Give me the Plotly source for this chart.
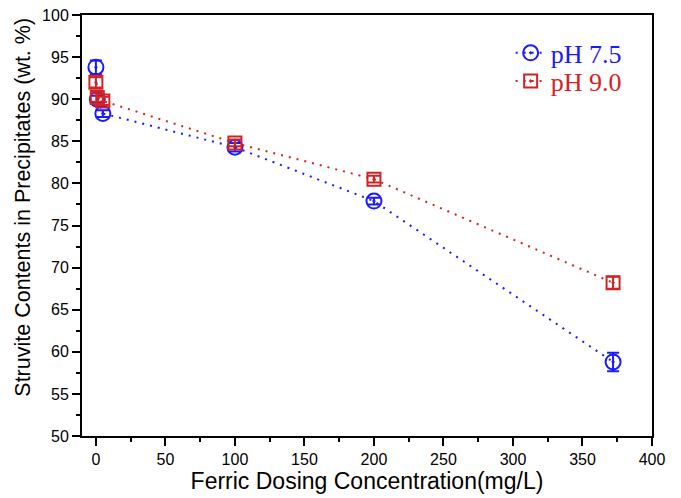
import plotly.graph_objects as go

x_vals = [0, 1, 5, 100, 200, 372]
ph75 = [93.8, 90.0, 88.3, 84.3, 77.9, 58.8]
ph75_err = [0.8, 0.4, 0.4, 0.5, 0.4, 1.1]
ph90 = [92.0, 90.2, 89.8, 84.8, 80.5, 68.2]
ph90_err = [0.6, 0.5, 0.5, 0.4, 0.4, 0.7]

blue = "#1a1aff"
red = "#d42222"

fig = go.Figure()
fig.add_trace(go.Scatter(
    x=x_vals, y=ph75, mode="lines+markers",
    name="<span style='color:%s'>pH 7.5</span>" % blue,
    line=dict(color=blue, width=2, dash="2px,6px"),
    marker=dict(symbol="circle-open-dot", size=15, color=blue, line=dict(width=2)),
    error_y=dict(type="data", array=ph75_err, color=blue, thickness=2, width=6),
    legend="legend",
))
fig.add_trace(go.Scatter(
    x=x_vals, y=ph90, mode="lines+markers",
    name="<span style='color:%s'>pH 9.0</span>" % red,
    line=dict(color=red, width=2, dash="2px,6px"),
    marker=dict(symbol="square-open-dot", size=13, color=red, line=dict(width=2)),
    error_y=dict(type="data", array=ph90_err, color=red, thickness=2, width=6),
    legend="legend2",
))

axis_common = dict(
    showline=True, linecolor="black", linewidth=2, mirror=True,
    ticks="outside", ticklen=8, tickwidth=2, tickcolor="black",
    showgrid=False, zeroline=False, automargin=False,
    ticklabeloverflow="allow",
    tickfont=dict(family="Liberation Sans, Arial", size=16, color="black"),
)

legend_common = dict(
    xanchor="left", yanchor="middle",
    bgcolor="rgba(0,0,0,0)", borderwidth=0,
    font=dict(family="Liberation Serif, Times New Roman", size=26),
    itemwidth=30,
)

fig.update_layout(
    width=681, height=498,
    margin=dict(l=82, r=29, t=15, b=62),
    plot_bgcolor="white", paper_bgcolor="white",
    xaxis=dict(range=[-10, 400], dtick=50,
               minor=dict(dtick=25, ticks="outside", ticklen=4, tickwidth=1.5, tickcolor="black"),
               title=dict(text="Ferric Dosing Concentration(mg/L)", standoff=5,
                          font=dict(family="Liberation Sans, Arial", size=23, color="black")),
               **axis_common),
    yaxis=dict(range=[50, 100], dtick=5,
               minor=dict(dtick=2.5, ticks="outside", ticklen=4, tickwidth=1.5, tickcolor="black"),
               **axis_common),
    annotations=[dict(
        text="Struvite Contents in Precipitates (wt. %)", textangle=-90,
        xref="paper", yref="paper", x=-0.104, y=0.544,
        xanchor="center", yanchor="middle", showarrow=False,
        font=dict(family="Liberation Sans, Arial", size=21.5, color="black"),
    )],
    legend=dict(x=0.752, y=0.91, **legend_common),
    legend2=dict(x=0.752, y=0.843, **legend_common),
    showlegend=True,
)

fig.write_html("out.html", config={"displayModeBar": False},
               post_script="document.body.style.margin='0';")
